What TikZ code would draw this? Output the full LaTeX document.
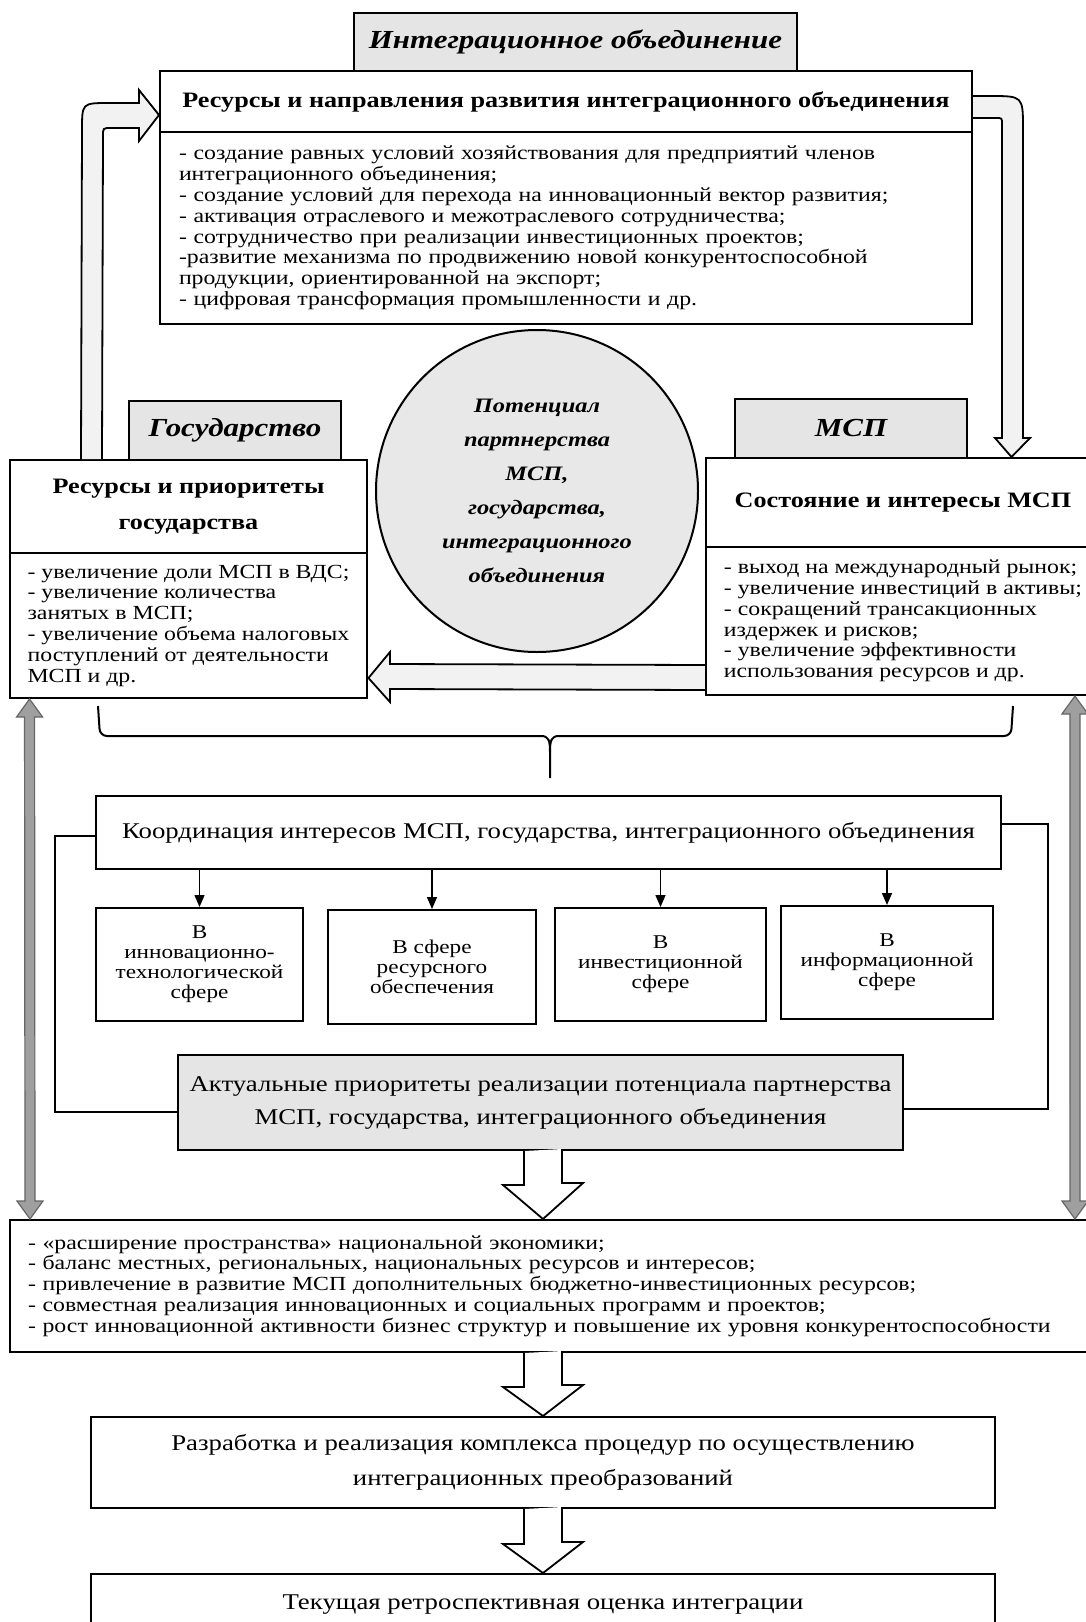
\documentclass[tikz,border=0pt]{standalone}
\usepackage{fontspec}
\setmainfont{Liberation Serif}[FakeStretch=1.19]
\usetikzlibrary{arrows.meta,calc,positioning}

\tikzset{
	block/.style={draw, line width=2pt, inner sep=0pt, align=center, fill=white},
	titlebox/.style={block, fill=gray!20, font=\fontsize{26}{30}\selectfont\bfseries\itshape},
	headbox/.style={block, font=\fontsize{22}{36}\selectfont\bfseries},
	listbox/.style={block, align=left, inner xsep=18pt, font=\fontsize{20}{20.8}\selectfont},
	spherebox/.style={block, font=\fontsize{19.5}{20}\selectfont},
	plainbox/.style={block, font=\fontsize{22.5}{35}\selectfont},
	hollow/.style={draw, line width=1.8pt, fill=gray!10, line join=miter},
	whitearrow/.style={hollow, fill=white},
	twoway/.style={draw=black!60, line width=1.2pt, fill=gray!75},
	link/.style={line width=2pt},
	smallarrow/.style={line width=1.5pt, -{Triangle[length=12pt,width=10pt]}}
}

\begin{document}
\begin{tikzpicture}[x=1pt, y=-1pt]
	
	\path[use as bounding box, fill=white] (0,0) rectangle (1086,1622);
	
	\node[titlebox, minimum width=443, minimum height=58] (intlabel) at (575.5,42) {Интеграционное объединение};
	\node[headbox, minimum width=812, minimum height=61] (reshead) at (566,101.5) {Ресурсы и направления развития интеграционного объединения};
	\node[listbox, minimum width=812, minimum height=192, text width=774] (resbody) at (566,228) {- создание равных условий хозяйствования для предприятий членов\\интеграционного объединения;\\- создание условий для перехода на инновационный вектор развития;\\- активация отраслевого и межотраслевого сотрудничества;\\- сотрудничество при реализации инвестиционных проектов;\\-развитие механизма по продвижению новой конкурентоспособной\\продукции, ориентированной на экспорт;\\- цифровая трансформация промышленности и др.};
	
	\node[titlebox, minimum width=212, minimum height=59] (goslabel) at (235,430.5) {Государство};
	\node[headbox, minimum width=357, minimum height=93] (goshead) at (188.5,506.5) {Ресурсы и приоритеты\\государства};
	\node[listbox, minimum width=357, minimum height=145] (gosbody) at (188.5,625.5) {- увеличение доли МСП в ВДС;\\- увеличение количества\\занятых в МСП;\\- увеличение объема налоговых\\поступлений от деятельности\\МСП и др.};
	
	\node[titlebox, minimum width=232, minimum height=59] (msplabel) at (851,428.5) {МСП};
	\node[headbox, minimum width=394, minimum height=89] (msphead) at (903,502.5) {Состояние и интересы МСП};
	\node[listbox, minimum width=394, minimum height=148] (mspbody) at (903,621) {- выход на международный рынок;\\- увеличение инвестиций в активы;\\- сокращений трансакционных\\издержек и рисков;\\- увеличение эффективности\\использования ресурсов и др.};
	
	\node[circle, draw, line width=2pt, fill=gray!18, minimum size=322, inner sep=0pt, align=center, font=\fontsize{20.5}{34}\selectfont\bfseries\itshape] (potential) at (537,491) {Потенциал\\партнерства\\МСП,\\государства,\\интеграционного\\объединения};
	
	\node[plainbox, minimum width=905, minimum height=73] (coord) at (548.5,832.5) {Координация интересов МСП, государства, интеграционного объединения};
	\node[spherebox, minimum width=207, minimum height=113] (s1) at (199.5,964.5) {В\\инновационно-\\технологической\\сфере};
	\node[spherebox, minimum width=208, minimum height=114] (s2) at (432,967) {В сфере\\ресурсного\\обеспечения};
	\node[spherebox, minimum width=211, minimum height=113] (s3) at (660.5,964.5) {В\\инвестиционной\\сфере};
	\node[spherebox, minimum width=212, minimum height=113] (s4) at (887,962.5) {В\\информационной\\сфере};
	\node[plainbox, fill=gray!20, minimum width=725, minimum height=95, font=\fontsize{22.5}{33}\selectfont] (akt) at (540.5,1102.5) {Актуальные приоритеты реализации потенциала партнерства\\МСП, государства, интеграционного объединения};
	
	\node[listbox, minimum width=1090, minimum height=132, text width=1054] (big) at (555,1286) {- «расширение пространства» национальной экономики;\\- баланс местных, региональных, национальных ресурсов и интересов;\\- привлечение в развитие МСП дополнительных бюджетно-инвестиционных ресурсов;\\- совместная реализация инновационных и социальных программ и проектов;\\- рост инновационной активности бизнес структур и повышение их уровня конкурентоспособности};
	\node[plainbox, minimum width=904, minimum height=91] (raz) at (543,1462.5) {Разработка и реализация комплекса процедур по осуществлению\\интеграционных преобразований};
	\node[plainbox, minimum width=904, minimum height=62] (tek) at (543,1605) {Текущая ретроспективная оценка интеграции};
	
	
	\draw[hollow] ($(goshead.north west)+(72,0)$) -- (82,130) .. controls (82,103) .. (109,103) -- (139,103) -- (139,90) -- ($(reshead.west)+(0,13.5)$) -- (139,141) -- (139,128) -- (111,128) .. controls (103,128) .. (103,136) -- ($(goshead.north west)+(93,0)$);
	\draw[hollow] ($(reshead.east)+(0,-5.5)$) -- (990,96) .. controls (1023,96) .. (1023,129) -- (1023,438) -- (1030,438) -- ($(msphead.north west)+(306.5,0)$) -- (995,438) -- (1002,438) -- (1002,124) .. controls (1002,118) .. (996,118) -- ($(reshead.east)+(0,16.5)$);
	\draw[hollow] ($(mspbody.south west)+(0,-31)$) -- (390,664) -- (390,652) -- ($(gosbody.south east)+(0,-21)$) -- (390,702) -- (390,689) -- ($(mspbody.south west)+(0,-6)$);
	
	\draw[link, rounded corners=7] (98,706) -- (100,736) -- (541,736);
	\draw[link] (541,736) .. controls (549,736) and (550,741) .. (550,752) -- (550,778);
	\draw[link] (559,736) .. controls (551,736) and (550,741) .. (550,752);
	\draw[link, rounded corners=7] (559,736) -- (1011,736) -- (1013,706);
	
	\path[smallarrow] (coord.south -| s1.north) edge (s1.north);
	\path[smallarrow] (coord.south -| s2.north) edge (s2.north);
	\path[smallarrow] (coord.south -| s3.north) edge (s3.north);
	\path[smallarrow] (coord.south -| s4.north) edge (s4.north);
	
	\draw[link] ($(coord.west)+(0,3.5)$) -- (55,836) |- ($(akt.west)+(0,9)$);
	\draw[link] ($(coord.east)+(0,-8.5)$) -- (1048,824) |- ($(akt.east)+(0,6.5)$);
	
	\coordinate (a1) at (akt.south -| raz.north);
	\coordinate (a2) at (big.south -| raz.north);
	\draw[whitearrow] ($(a1)+(-19,0)$) -- ++(0,34) -- ++(-21,0) -- (a1 |- big.north) -- ++(40,-36) -- ++(-21,0) -- ++(0,-34);
	\draw[whitearrow] ($(a2)+(-19,0)$) -- ++(0,34) -- ++(-21,0) -- (raz.north) -- ++(40,-31) -- ++(-21,0) -- ++(0,-34);
	\draw[whitearrow] ($(raz.south)+(-19,0)$) -- ++(0,35) -- ++(-21,0) -- (tek.north) -- ++(40,-31) -- ++(-21,0) -- ++(0,-35);
	
	\coordinate (gl1) at ($(gosbody.south west)+(21,0)$);
	\coordinate (gl2) at ($(big.north west)+(21,0)$);
	\coordinate (gr1) at ($(mspbody.south west)+(370,0)$);
	\coordinate (gr2) at ($(big.north west)+(1066,0)$);
	\draw[twoway] (gl1) -- ++(13,18) -- ++(-8,0) -- ($(gl2)+(5,-18)$) -- ++(8,0) -- (gl2) -- ++(-13,-18) -- ++(8,0) -- ($(gl1)+(-5,18)$) -- ++(-8,0) -- cycle;
	\draw[twoway] (gr1) -- ++(13,18) -- ++(-8,0) -- ($(gr2)+(5,-18)$) -- ++(8,0) -- (gr2) -- ++(-13,-18) -- ++(8,0) -- ($(gr1)+(-5,18)$) -- ++(-8,0) -- cycle;
	
\end{tikzpicture}
\end{document}
